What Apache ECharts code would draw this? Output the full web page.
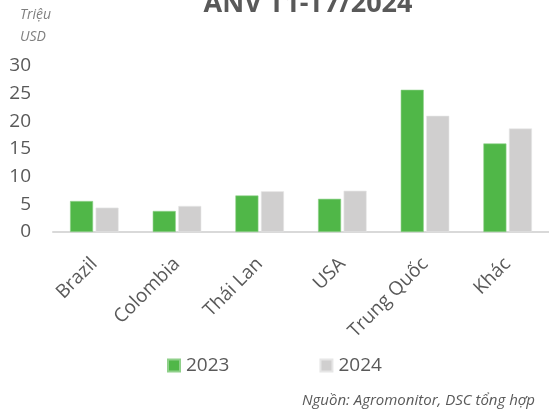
<!DOCTYPE html>
<html>
<head>
<meta charset="utf-8">
<script src="https://cdn.jsdelivr.net/npm/echarts@6/dist/echarts.min.js"></script>
<style>
  html, body { margin: 0; padding: 0; background: #fff; }
  #chart { width: 549px; height: 416px; }
</style>
</head>
<body>
<div id="chart"></div>
<script>
// data
const categories = ['Brazil', 'Colombia', 'Thái Lan', 'USA', 'Trung Quốc', 'Khác']
const values2023 = [5.6, 3.8, 6.6, 6.0, 25.7, 16.0]
const values2024 = [4.4, 4.7, 7.35, 7.45, 21.0, 18.7]
const seriesNames = ['2023', '2024']

const FONT = '"Open Sans", "Noto Sans", sans-serif'
const TEXT = '#595959'

const chart = echarts.init(document.getElementById('chart'))

const option = {
  backgroundColor: '#fff',
  animation: false,
  textStyle: { fontFamily: FONT },
  graphic: [
    {
      // title, top of it is cut off in the reference
      type: 'text', x: 308, y: 4,
      style: {
        text: 'ANV T1-T7/2024', font: 'bold 27px ' + FONT, fill: TEXT,
        align: 'center', verticalAlign: 'middle'
      }
    },
    {
      type: 'text', left: 20, top: 4,
      style: { text: 'Triệu\nUSD', font: 'italic 14px ' + FONT, fill: '#7f7f7f', lineHeight: 22 }
    },
    {
      type: 'text', right: 14, top: 393,
      style: { text: 'Nguồn: Agromonitor, DSC tổng hợp', font: 'italic 15px ' + FONT, fill: TEXT }
    }
  ],
  legend: {
    data: seriesNames,
    left: 167,
    top: 356,
    padding: 0,
    itemWidth: 12,
    itemHeight: 12,
    itemGap: 90,
    icon: 'rect',
    textStyle: { fontFamily: FONT, fontSize: 19, color: TEXT, padding: [0, 0, 0, 1] }
  },
  grid: { left: 53, right: -4, top: 66, bottom: 184 },
  xAxis: {
    type: 'category',
    data: categories,
    axisLine: { lineStyle: { color: '#d9d9d9', width: 2 } },
    axisTick: { show: false },
    axisLabel: {
      rotate: 45,
      margin: 29,
      interval: 0,
      fontFamily: FONT,
      fontSize: 19,
      color: TEXT
    }
  },
  yAxis: {
    type: 'value',
    min: 0,
    max: 30,
    interval: 5,
    splitLine: { show: false },
    axisLine: { show: false },
    axisTick: { show: false },
    axisLabel: { margin: 22, fontFamily: FONT, fontSize: 19, color: TEXT }
  },
  series: [
    {
      name: seriesNames[0],
      type: 'bar',
      data: values2023,
      barWidth: 23,
      barGap: '11%',
      itemStyle: { color: '#50b748', borderColor: '#8fd08a', borderWidth: 0.6 }
    },
    {
      name: seriesNames[1],
      type: 'bar',
      data: values2024,
      barWidth: 23,
      itemStyle: { color: '#d0cfcf', borderColor: '#e6e6e6', borderWidth: 0.6 }
    }
  ]
}

chart.setOption(option)
</script>
</body>
</html>
